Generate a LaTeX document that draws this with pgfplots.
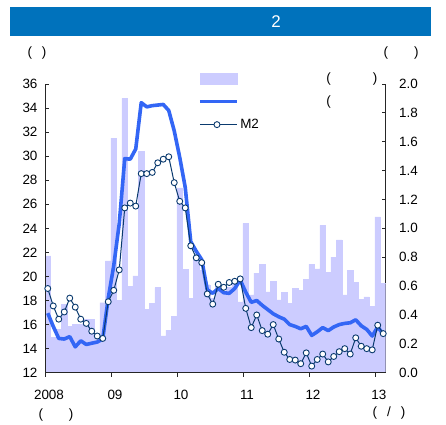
\documentclass[border=0pt]{standalone}
\usepackage{pgfplots}
\pgfplotsset{compat=1.18}
\usepackage{pgfplotstable}
\usepackage{fontspec}
\setmainfont{Liberation Sans}

\definecolor{titlebar}{HTML}{0072BC}
\definecolor{barfill}{HTML}{CCCCFF}
\definecolor{thickblue}{HTML}{3366F5}
\definecolor{mtwo}{HTML}{0A3A6E}

% monthly, 2008/01 = 0 ... 2013/02 = 61
% bar: right axis, base: thick line, m2: line with circles (left axis)
\pgfplotstableread{
i   bar    base   m2
0   0.81   16.95  19.00
1   0.245  15.85  17.55
2   0.30   14.85  16.45
3   0.475  14.80  17.05
4   0.32   15.00  18.20
5   0.335  14.15  17.45
6   0.335  14.65  16.45
7   0.37   14.35  16.10
8   0.37   14.45  15.45
9   0.255  14.55  15.05
10  0.485  14.80  14.85
11  0.775  18.20  17.90
12  1.625  20.90  18.85
13  0.50   24.40  20.55
14  1.90   29.80  25.70
15  0.60   29.75  26.10
16  0.67   30.60  25.85
17  1.535  34.45  28.55
18  0.44   34.10  28.55
19  0.48   34.20  28.65
20  0.59   34.25  29.45
21  0.255  34.30  29.75
22  0.295  33.80  29.95
23  0.39   32.10  27.80
24  1.28   29.90  26.25
25  0.715  27.40  25.70
26  0.515  22.90  22.55
27  0.78   22.10  21.55
28  0.71   21.40  21.15
29  0.61   18.90  18.55
30  0.515  18.60  17.70
31  0.60   19.00  19.35
32  0.56   18.65  19.10
33  0.59   18.60  19.50
34  0.63   19.00  19.60
35  0.49   19.70  19.80
36  1.035  18.70  17.35
37  0.54   17.85  15.75
38  0.69   18.00  16.80
39  0.75   17.60  15.50
40  0.56   17.25  15.20
41  0.635  16.90  16.00
42  0.505  16.65  14.80
43  0.555  16.45  13.70
44  0.48   16.00  13.10
45  0.585  15.85  13.05
46  0.57   15.65  12.75
47  0.645  15.85  13.65
48  0.75   15.10  12.55
49  0.72   15.40  13.10
50  1.02   15.75  13.55
51  0.695  15.50  12.90
52  0.80   15.80  13.35
53  0.92   16.00  13.75
54  0.54   16.10  14.00
55  0.71   16.15  13.55
56  0.625  16.40  14.90
57  0.51   15.90  14.20
58  0.525  15.60  14.00
59  0.46   15.05  13.90
60  1.08   15.80  15.95
61  0.62   15.20  15.25
}\data

\pgfplotsset{
  chartframe/.style={
    at={(45bp,-372.7bp)}, anchor=south west,
    scale only axis, width=340.7bp, height=288.7bp,
    xmin=-0.5, xmax=61.45,
    tick label style={font=\fontsize{13.5}{13.5}\selectfont},
    /pgf/number format/assume math mode=true,
    axis line style={-, line width=0.9bp, black!85},
    tick style={line width=0.9bp, black!85},
    major tick length=4bp,
  }
}

\begin{document}
\begin{tikzpicture}
\path[use as bounding box] (0bp,0bp) rectangle (446bp,-425bp);
\fill[titlebar] (10bp,-7bp) rectangle (431bp,-36bp);
\node[text=white, font=\fontsize{17}{17}\selectfont] at (276bp,-22bp) {2};

% bars, right scale
\begin{axis}[chartframe,
  ymin=0, ymax=2,
  axis x line=none, axis y line*=right,
  ytick={0,0.2,...,2.01},
  ytick align=inside,
  yticklabel style={/pgf/number format/.cd, fixed, fixed zerofill, precision=1, /tikz/.cd, anchor=west, xshift=10bp},
]
\addplot[ybar, bar width=1, bar shift=0pt, fill=barfill, draw=barfill, line width=0.2bp]
  table[x=i, y=bar] {\data};
\end{axis}

% lines, left scale
\begin{axis}[chartframe,
  ymin=12, ymax=36,
  axis x line*=bottom, axis y line*=left,
  ytick={12,14,...,36},
  ytick align=inside,
  xtick={-0.5,11.5,23.5,35.5,47.5,59.5},
  xticklabels={2008,09,10,11,12,13},
  xtick align=outside,
  xticklabel style={xshift=4bp, yshift=-10bp},
  yticklabel style={xshift=-4bp},
  legend style={at={(axis description cs:0.449,1.045)}, anchor=north west,
    draw=none, fill=none, inner sep=0pt, row sep=9bp,
    font=\fontsize{13.5}{13.5}\selectfont,
    nodes={inner sep=1.5bp}},
  legend cell align=left,
]
\addlegendimage{legend image code/.code={\fill[barfill] (0bp,-5.5bp) rectangle (37bp,5.5bp);}}
\addlegendentry{\hspace*{86bp}(\hspace*{42bp})}
\addplot[thickblue, line width=3.6bp, line join=round,
  legend image code/.code={\draw[thickblue, line width=3.6bp] (0bp,0bp) -- (37bp,0bp);}]
  table[x=i, y=base] {\data};
\addlegendentry{\hspace*{86bp}(}
\addplot[mtwo, line width=1bp, mark=*, mark size=3bp,
  mark options={fill=white, draw=mtwo, line width=0.9bp},
  legend image code/.code={\draw[mtwo, line width=1bp] (0bp,0bp) -- (37bp,0bp);
    \draw[mtwo, fill=white, line width=0.9bp] (17bp,0bp) circle (3bp);}]
  table[x=i, y=m2] {\data};
\addlegendentry{M2}
\end{axis}

\node[font=\fontsize{13.5}{13.5}\selectfont] at (37bp,-53bp) {(\hspace*{10bp})};
\node[font=\fontsize{13.5}{13.5}\selectfont] at (401bp,-53bp) {(\hspace*{26bp})};
\node[font=\fontsize{13.5}{13.5}\selectfont] at (56bp,-415bp) {(\hspace*{26bp})};
\node[font=\fontsize{13.5}{13.5}\selectfont] at (389bp,-413bp) {(\hspace*{10bp}/\hspace*{10bp})};
\end{tikzpicture}
\end{document}
